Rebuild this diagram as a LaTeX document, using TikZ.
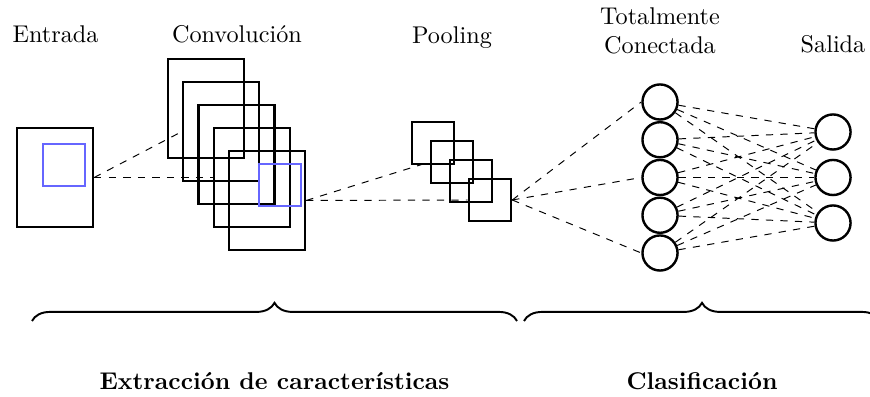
\documentclass[tikz,border=0pt]{standalone}
\usetikzlibrary{decorations.pathreplacing}
\tikzset{
  mapa/.style={draw, line width=1pt, minimum width=31.4pt, minimum height=40.9pt, inner sep=0pt},
  filtro/.style={draw=blue!60, line width=1pt, minimum size=17.4pt, inner sep=0pt},
  capa/.style={draw, line width=1pt, minimum size=17.4pt, inner sep=0pt},
  neurona/.style={draw, line width=1pt, circle, minimum size=14.5pt, inner sep=0pt},
  llave/.style={decorate, decoration={brace, amplitude=7.5pt}, thick},
}
\begin{document}
\begin{tikzpicture}[x=.4132pt, y=-.4132pt]
\useasboundingbox (0,0) rectangle (870,397);
% entrada
\node[mapa] (in) at (55,177.5) {};
\node[filtro] (fin) at (64,165) {};
% convolucion
\foreach \i in {1,...,5}
\node[mapa] (c\i) at ({206+15.25*(\i-1)},{108.5+23*(\i-1)}) {};
\node[filtro] (fc) at (280,185) {};
% pooling
\foreach \i in {1,...,4}
\node[capa] (p\i) at ({433+19*(\i-1)},{143+19*(\i-1)}) {};
% capa densa y salida
\foreach \i in {1,...,5}
\node[neurona] (f\i) at (660,{102+37.75*(\i-1)}) {};
\foreach \i in {1,2,3}
\node[neurona] (o\i) at (833,{132+45.5*(\i-1)}) {};
%%%%
\draw[dashed] (in.east) -- (c2.west);
\draw[dashed] (in.east) -- (c4.west);
\draw[dashed] (c5.east) -- (p2.west);
\draw[dashed] (c5.east) -- (p4.west);
\foreach \i in {1,3,5}
\draw[dashed] (p4.east) -- (f\i.west);
\foreach \i in {1,...,5}
\foreach \j in {1,2,3}
\draw[dashed] (f\i) -- (o\j);
%%%%
\node[anchor=base] (tin) at (55.5,43) {Entrada};
\node[anchor=base] (tconv) at (237,43) {Convoluci\'on};
\node[anchor=base] (tpool) at (452,44) {Pooling};
\node[align=center, inner sep=0pt] (tfc) at (660,31) {Totalmente\\Conectada};
\node[anchor=base] (tout) at (833,53) {Salida};
%%%%
\draw[llave] (32,321) -- (517,321);
\draw[llave] (524,321) -- (880,321);
\node[anchor=base] (text) at (274.5,390) {\textbf{Extracci\'on de caracter\'isticas}};
\node[anchor=base] (tclas) at (702,390) {\textbf{Clasificaci\'on}};
\end{tikzpicture}
\end{document}
